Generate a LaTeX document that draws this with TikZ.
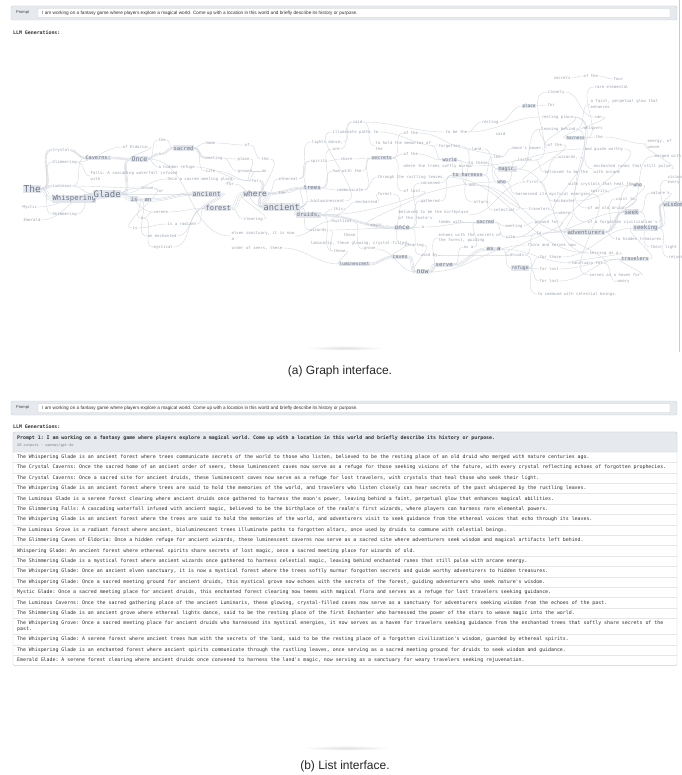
\documentclass[tikz,border=0pt]{standalone}
\usepackage{fontspec}
\setmainfont{Liberation Sans}
\setmonofont{DejaVu Sans Mono}
\usetikzlibrary{positioning}
\pgfdeclarelayer{bg}
\pgfsetlayers{bg,main}
\definecolor{wordgray}{HTML}{9AA3B0}
\definecolor{bigword}{HTML}{6C7789}
\definecolor{hlfill}{HTML}{E2E6EC}
\definecolor{linkgray}{HTML}{D2D7DE}
\definecolor{barfill}{HTML}{E6E9ED}
\definecolor{barline}{HTML}{C8CDD4}
\definecolor{rowline}{HTML}{E4E7EA}

\begin{document}
\begin{tikzpicture}[x=1pt, y=-1pt,
  wd/.style={font=\ttfamily\fontsize{#1}{5.2}\selectfont, text=wordgray, inner sep=0.4pt, anchor=west, align=left},
  wd/.default=4,
  hl/.style={wd=#1, fill=hlfill, text=bigword},
  hl/.default=5,
  link/.style={draw=linkgray, line width=#1, line cap=round},
  link/.default=0.4pt,
  bundle/.style={draw=linkgray, line width=0.45pt, double=white, double distance=#1},
  bar/.style={draw=barline, fill=barfill, rounded corners=1.5pt},
  field/.style={draw=barline, fill=white, rounded corners=0.5pt},
  lbl/.style={font=\fontsize{4}{5}\selectfont, text=black!75, anchor=west, inner sep=0pt},
  ptxt/.style={font=\fontsize{4.7}{5}\selectfont, text=black!80, anchor=west, inner sep=0pt},
  llm/.style={font=\ttfamily\bfseries\fontsize{4.9}{6}\selectfont, text=black!80, anchor=west, inner sep=0pt},
  rowtxt/.style={font=\ttfamily\fontsize{4.9}{6}\selectfont, text=black!80, anchor=west, inner sep=0pt, align=left},
  capt/.style={font=\fontsize{12}{14}\selectfont, text=black!85},
]
\useasboundingbox (0,0) rectangle (681,775);

% (a) graph interface
\draw[bar] (11,6) rectangle (677,20);
\draw[field] (38,8.5) rectangle (670,17.5);
\node[lbl] (pa) at (16,13) {Prompt};
\node[ptxt] (pta) at (42,13) {I am working on a fantasy game where players explore a magical world. Come up with a location in this world and briefly describe its history or purpose.};
\node[llm] (llma) at (13,33) {LLM Generations:};
\draw[barline] (679.5,0) -- (679.5,352);

% words
\foreach \n/\x/\y/\txt in {mystic/22/207/Mystic, emerald/23/220/Emerald, crystal/52/150/Crystal, glimm/52/162/Glimmering,
  shimm/52/214/Shimmering, lumin/52/186/Luminous, falls/90/176/{Falls: A cascading waterfall infused\\with},
  eldoria/122/147/{of Eldoria:}, the2/158/140/the, a1/158/154/a, refuge1/158/167/{a hidden refuge},
  onceasacred/167/179/{Once a sacred meeting place}, home/205/143/home, meeting1/205/158/meeting, site1/205/171/site,
  for1/226/184/for, grove/141/188/Grove, orw/158/191/or, a2/140/218/a, serene/153/212/serene, is2/132/228/is,
  radiant/167/224/{is a radiant}, enchanted1/147/236/{an enchanted}, mystical0/153/247/mystical,
  of1/244/145/of, place1/237/159/place,
  the3/261/159/the, ground1/237/171/ground, an2/261/171/an, for2/251/181/for, ethereal1/278/179/ethereal,
  the4/278/193/the, clearing1/243/219/clearing, elven/231/236/{elven sanctuary, it is now\\a},
  seers/231/248/{order of seers, these}, spirits1/310/161/spirits, lights/311/142/{lights dance,}, are/332/149/are,
  illum/332/132/{illuminate paths to}, said1/352/122/said, share/340/159/share, hum/332/171/{hum with the},
  communicate/336/190/communicate, biolum/310/201/bioluminescent, enchanted2/355/202/enchanted, this/333/209/this,
  mystical1/332/221/mystical, wizards1/309/230/{wizards,}, those1/343/235/those,
  luminaris/310/243/{luminaris, these glowing, crystal-filled}, grove2/363/249/grove, these1/333/251/these,
  tohold/375/146/{to hold the memories of\\the}, ofthe1/403/133/{of the}, ofthe2/403/154/{of the},
  wherethetrees/403/166/{where the trees softly murmur}, rustling/377/177/{through the rustling leaves,},
  convened/420/183/convened, forest2/377/194/forest, oflost/403/191/{of lost}, magic1/370/225/{magic,},
  believed1/398/215/{believed to be the birthplace\\of the realm's}, a3/421/227/a, gathered/420/201/gathered,
  clearing2/404/245/clearing, usedby/420/255/{used by}, tothese/468/163/{to these}, andw/468/185/and,
  altars/473/202/{altars,}, tombs/438/222/{tombs with}, echoes/438/238/{echoes with the secrets of\\the forest, guiding},
  asa1/463/247/{as a}, tobethe/445/132/{to be the}, resting1/481/122/resting, said2/495/134/said,
  forgotten/438/146/forgotten, land/471/149/{land,}, the5/493/157/the, listen/517/160/{listen,},
  moon/512/148/{moon's power,}, first/526/182/first, for3/547/105/for, closely/547/92/closely,
  secrets2/553/78/secrets, ofthe3/583/76/{of the}, four/613/79/four, rare/594/87/{rare elemental},
  faint/590/104/{a faint, perpetual glow that\\enhances}, restingplace/541/117/{resting place}, can/594/117/can,
  leaving/541/129/{leaving behind}, whispers/583/128/whispers, the6/595/137/the, energy/647/144/{energy, of\\weave},
  ofthe4/547/145/{of the}, guide/584/149/{and guide worthy}, wizards2/558/157/{wizards,}, merged/654/156/{merged with},
  runes/593/169/{enchanted runes that still pulse\\with arcane}, believed2/544/172/{believed to be the},
  crystals/568/184/{with crystals that heal those}, visions/667/180/{visions of\\every},
  harnessed/515/194/{harnessed its mystical energies}, spirits2/590/191/{spirits,}, natures/650/193/{nature's},
  enchanter/553/201/Enchanter, visitto/615/199/{visit to}, celestial/493/210/celestial,
  travelers1/528/209/{travelers,}, where2/558/213/where, olddruid/587/208/{of an old druid},
  meeting2/505/226/meeting, groundfor/534/222/{ground for}, civ/587/222/{of a forgotten civilization's},
  site2/505/237/site, tok/536/233/to, hidden/615/239/{to hidden treasures.}, theirlight/650/247/{their light},
  flora/527/245/{flora and serves now}, druids2/509/255/druids, forthose/539/257/{for those},
  servingasa/589/253/{serving as a}, rejuv/668/257/{rejuvenation.}, sanctuary/571/263/{sanctuary for},
  forlost1/539/269/{for lost}, haven/589/275/{serves as a haven for}, weary/617/282/weary,
  forlost2/539/281/{for lost}, commune/537/294/{to commune with celestial beings.}}
  \node[wd] (\n) at (\x,\y) {\txt};

\foreach \n/\x/\y/\s/\txt in {the/23/189/9.5/The, whisp/52/199/7.2/Whispering, glade/93/194/9/Glade,
  caverns/85/158/5.2/{Caverns:}, once1/131/159/6.5/Once, sacred1/173/148/5.5/sacred, is1/130/199/5.8/is,
  an1/144/200/5.5/an, ancient1/192/194/6.7/ancient, forest1/205/208/7/forest, where1/243/194/7.7/where,
  ancient2/263/207/8.6/ancient, trees1/303/188/5.7/trees, druids1/296/215/5.7/{druids,},
  secrets1/371/158/4.8/secrets, once2/394/228/6.2/once, caves/392/257/5/caves,
  luminescent/339/264/4.5/luminescent, now/416/272/6.7/now, serve/435/265/5.7/serve, world/442/160/4.7/world,
  toharness/452/175/5/{to harness}, sacred2/476/222/4.8/sacred, asa2/486/249/5.8/{as a}, magic2/498/169/5/{magic,},
  who1/497/182/4.5/who, place2/522/106/4.3/place, harness/566/138/4.3/harness, who2/633/185/4.5/who,
  wisdom/663/204/5.6/wisdom, seek/624/212/5.8/seek, seeking/633/228/5.7/seeking,
  adventurers/567/232/5.6/adventurers, travelers2/621/259/5/travelers, refuge2/511/268/4.7/refuge}
  \node[hl=\s] (\n) at (\x,\y) {\txt};

\begin{pgfonlayer}{bg}
\foreach \a/\b/\w in {the/whisp/3.5pt, whisp/glade/4pt, glade/is1/3pt, is1/an1/2.2pt, an1/ancient1/2pt,
  ancient1/forest1/2pt, forest1/where1/3.5pt, where1/ancient2/3pt, ancient2/druids1/2.5pt, where1/trees1/1.5pt,
  luminescent/caves/1.5pt, caves/now/2pt, now/serve/2.5pt, serve/asa2/2pt, glade/once1/1.5pt, caverns/once1/1.2pt,
  the/lumin/1.2pt, the/crystal/1pt, crystal/caverns/1pt, once1/a1/1.2pt, a1/sacred1/1.2pt, druids1/once2/1.2pt,
  adventurers/seek/1pt, seeking/wisdom/1pt, sacred1/meeting1/1pt, for2/ancient2/1.2pt}
{
  \draw[bundle=\w] (\a.east) to[out=0, in=180] (\b.west);
  \draw[link] (\a.east) to[out=0, in=180] (\b.west);
}
\foreach \a/\b in {the/glimm, the/shimm, mystic/glade, emerald/glade, lumin/glade, lumin/grove, lumin/caverns,
  shimm/glade, whisp/grove, glimm/falls, glimm/eldoria, eldoria/once1, grove/orw, grove/is2, glade/onceasacred,
  glade/ancient1, glade/serene, is1/a2, a2/serene, a2/mystical0, mystical0/forest1, serene/forest1, is2/radiant,
  radiant/forest1, is1/enchanted1,
  enchanted1/forest1, forest1/clearing1, clearing1/where1, where1/the4, the4/trees1, where1/ethereal1,
  ethereal1/spirits1, ethereal1/lights, once1/the2, the2/sacred1, sacred1/home, sacred1/site1, once1/refuge1,
  refuge1/for2, home/of1, of1/the3, the3/ancient2, meeting1/place1, meeting1/ground1, place1/for2, ground1/for2,
  ground1/an2, site1/for2, onceasacred/for1, for1/ancient2, once1/elven, seers/luminescent, elven/mystical1,
  ancient2/trees1, ancient2/biolum, biolum/illum, ancient2/wizards1, ancient2/spirits1, druids1/these1,
  druids1/this, druids1/who1, wizards1/these1, wizards1/once2, these1/luminescent, this/mystical1,
  this/enchanted2, mystical1/grove2, grove2/now, enchanted2/forest2, forest2/clearing2, clearing2/now,
  luminaris/caves, trees1/communicate, communicate/secrets1, trees1/are, are/said1, said1/tohold, trees1/hum,
  hum/secrets1, spirits1/share, share/secrets1, communicate/rustling, lights/said1, illum/forgotten,
  secrets1/ofthe2, ofthe2/world, secrets1/oflost, oflost/magic1, magic1/once2, secrets1/ofthe1, ofthe1/land,
  tohold/world, world/tothese, world/andw, andw/travelers1, andw/adventurers, tothese/who1, who1/listen,
  who1/harnessed, listen/believed2, listen/closely, closely/can, secrets2/ofthe3, ofthe3/four, said1/tobethe,
  tobethe/resting1, resting1/place2, tobethe/restingplace, restingplace/ofthe4, restingplace/olddruid,
  restingplace/civ, ofthe4/first, first/enchanter, first/wizards2, once2/gathered, once2/convened, once2/a3,
  once2/usedby, gathered/toharness, convened/toharness, toharness/the5, toharness/celestial, the5/moon,
  the5/land, land/magic2, moon/leaving, celestial/magic2, magic2/leaving, leaving/faint, leaving/runes,
  runes/energy, believed1/first, wizards2/where2, where2/adventurers, can/harness, harness/rare, harness/the6,
  the6/energy, a3/sacred2, sacred2/meeting2, sacred2/site2, site2/where2, meeting2/groundfor, groundfor/druids2,
  druids2/tok, tok/seek, usedby/druids2, druids2/commune, serve/asa1, asa1/sacred2, asa2/refuge2,
  asa2/sanctuary, refuge2/forthose, refuge2/forlost1, refuge2/forlost2, forthose/seeking, forlost1/travelers2,
  forlost2/travelers2, travelers2/seeking, sanctuary/adventurers, sanctuary/weary, adventurers/visitto,
  visitto/seek, adventurers/who2, who2/seek, adventurers/hidden, seek/theirlight, seek/natures, natures/wisdom,
  seeking/rejuv, seeking/visions, civ/wisdom, echoes/adventurers, now/echoes, now/flora, magic2/servingasa,
  rustling/servingasa, servingasa/sanctuary, olddruid/merged, harnessed/haven, haven/travelers2,
  guide/adventurers, wherethetrees/guide, tombs/sacred2, forgotten/altars, place2/for3, enchanter/who2}
  \draw[link] (\a.east) to[out=0, in=180] (\b.west);
\end{pgfonlayer}

\shade[inner color=black!12, outer color=white] (345,348) ellipse (40pt and 2.5pt);
\node[capt] (capa) at (340,371) {(a) Graph interface.};

% (b) list interface
\draw[bar] (11,401) rectangle (677,415);
\draw[field] (38,403.5) rectangle (670,412.5);
\node[lbl] (pb) at (16,408) {Prompt};
\node[ptxt] (ptb) at (42,408) {I am working on a fantasy game where players explore a magical world. Come up with a location in this world and briefly describe its history or purpose.};
\node[llm] (llmb) at (13,427) {LLM Generations:};
\draw[draw=barline, fill=white, rounded corners=1.5pt] (13,432) rectangle (677,665.6);
\draw[draw=barline, fill=barfill] (13,452) -- (13,434) arc[start angle=180, end angle=90, radius=2pt] -- (675,432)
  arc[start angle=90, end angle=0, radius=2pt] -- (677,452) -- cycle;
\node[rowtxt, font=\ttfamily\bfseries\fontsize{4.9}{6}\selectfont] (hdr) at (17,438) {Prompt 1: I am working on a fantasy game where players explore a magical world. Come up with a location in this world and briefly describe its history or purpose.};
\node[rowtxt, font=\ttfamily\fontsize{3.6}{4}\selectfont, text=black!50] (meta) at (17,446) {20 outputs · openai/gpt-4o};

\foreach \txt [count=\i] in {
  {The Whispering Glade is an ancient forest where trees communicate secrets of the world to those who listen, believed to be the resting place of an old druid who merged with nature centuries ago.},
  {The Crystal Caverns: Once the sacred home of an ancient order of seers, these luminescent caves now serve as a refuge for those seeking visions of the future, with every crystal reflecting echoes of forgotten prophecies.},
  {The Crystal Caverns: Once a sacred site for ancient druids, these luminescent caves now serve as a refuge for lost travelers, with crystals that heal those who seek their light.},
  {The Whispering Glade is an ancient forest where trees are said to hold the memories of the world, and travelers who listen closely can hear secrets of the past whispered by the rustling leaves.},
  {The Luminous Glade is a serene forest clearing where ancient druids once gathered to harness the moon's power, leaving behind a faint, perpetual glow that enhances magical abilities.},
  {The Glimmering Falls: A cascading waterfall infused with ancient magic, believed to be the birthplace of the realm's first wizards, where players can harness rare elemental powers.},
  {The Whispering Glade is an ancient forest where the trees are said to hold the memories of the world, and adventurers visit to seek guidance from the ethereal voices that echo through its leaves.},
  {The Luminous Grove is a radiant forest where ancient, bioluminescent trees illuminate paths to forgotten altars, once used by druids to commune with celestial beings.},
  {The Glimmering Caves of Eldoria: Once a hidden refuge for ancient wizards, these luminescent caverns now serve as a sacred site where adventurers seek wisdom and magical artifacts left behind.},
  {Whispering Glade: An ancient forest where ethereal spirits share secrets of lost magic, once a sacred meeting place for wizards of old.},
  {The Shimmering Glade is a mystical forest where ancient wizards once gathered to harness celestial magic, leaving behind enchanted runes that still pulse with arcane energy.},
  {The Whispering Glade: Once an ancient elven sanctuary, it is now a mystical forest where the trees softly murmur forgotten secrets and guide worthy adventurers to hidden treasures.},
  {The Whispering Glade: Once a sacred meeting ground for ancient druids, this mystical grove now echoes with the secrets of the forest, guiding adventurers who seek nature's wisdom.},
  {Mystic Glade: Once a sacred meeting place for ancient druids, this enchanted forest clearing now teems with magical flora and serves as a refuge for lost travelers seeking guidance.},
  {The Luminous Caverns: Once the sacred gathering place of the ancient Luminaris, these glowing, crystal-filled caves now serve as a sanctuary for adventurers seeking wisdom from the echoes of the past.},
  {The Shimmering Glade is an ancient grove where ethereal lights dance, said to be the resting place of the first Enchanter who harnessed the power of the stars to weave magic into the world.}}
{
  \node[rowtxt] (r\i) at (17,{457.2+10.4*(\i-1)}) {\txt};
  \draw[rowline] (13,{452+10.4*\i}) -- (677,{452+10.4*\i});
}
\node[rowtxt] (r17) at (17,626.4) {The Whispering Grove: Once a sacred meeting place for ancient druids who harnessed its mystical energies, it now serves as a haven for travelers seeking guidance from the enchanted trees that softly share secrets of the\\past.};
\draw[rowline] (13,634.4) -- (677,634.4);
\foreach \txt [count=\i from 18] in {
  {The Whispering Glade: A serene forest where ancient trees hum with the secrets of the land, said to be the resting place of a forgotten civilization's wisdom, guarded by ethereal spirits.},
  {The Whispering Glade is an enchanted forest where ancient spirits communicate through the rustling leaves, once serving as a sacred meeting ground for druids to seek wisdom and guidance.},
  {Emerald Glade: A serene forest clearing where ancient druids once convened to harness the land's magic, now serving as a sanctuary for weary travelers seeking rejuvenation.}}
{
  \node[rowtxt] (r\i) at (17,{639.6+10.4*(\i-18)}) {\txt};
}
\draw[rowline] (13,644.8) -- (677,644.8);
\draw[rowline] (13,655.2) -- (677,655.2);

\shade[inner color=black!12, outer color=white] (347,748) ellipse (45pt and 2.5pt);
\node[capt] (capb) at (345,766) {(b) List interface.};
\end{tikzpicture}
\end{document}
